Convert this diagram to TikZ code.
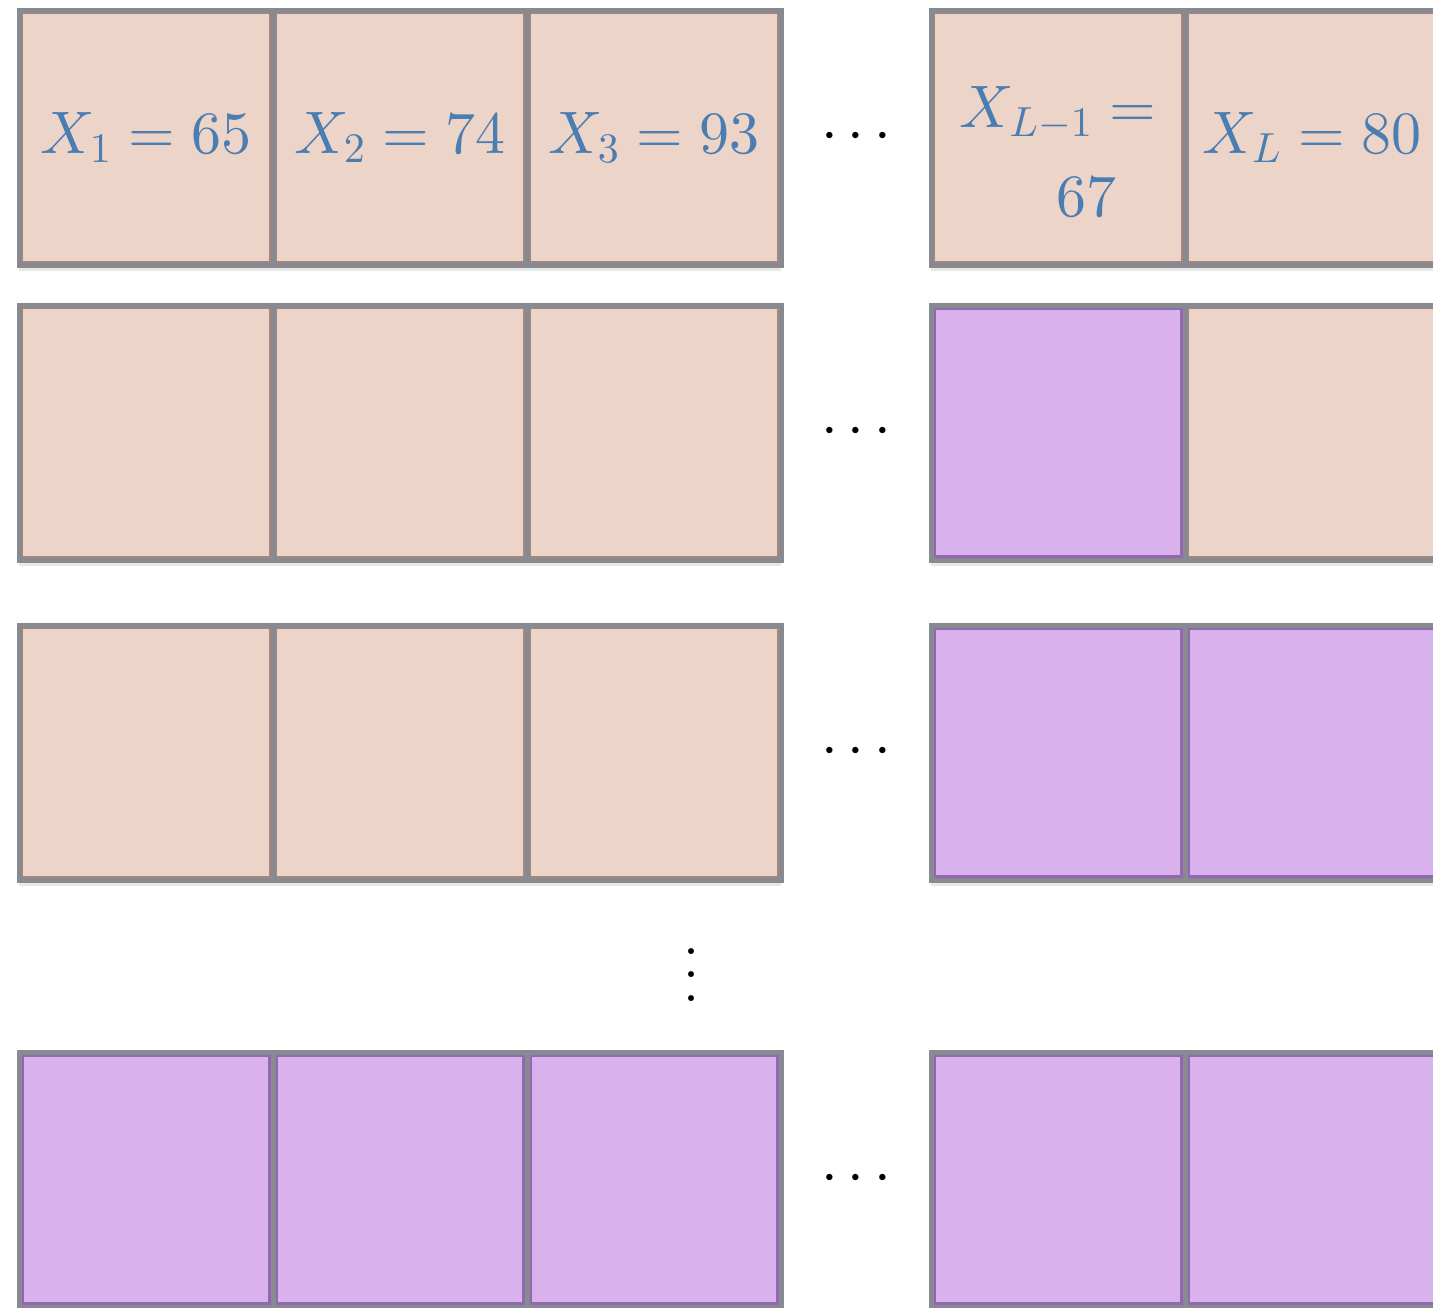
\documentclass[tikz,border=0pt]{standalone}
\usepackage{tikz}
\usetikzlibrary{positioning, calc, shadows}

% scalable math fonts for the large labels
\DeclareFontShape{OT1}{cmr}{m}{n}{<->cmr10}{}
\DeclareFontShape{OML}{cmm}{m}{it}{<->cmmi10}{\skewchar\font'177}
\DeclareFontShape{OMS}{cmsy}{m}{n}{<->cmsy10}{\skewchar\font'60}

\definecolor{cellpeach}{HTML}{EDD4C8}
\definecolor{cellviolet}{HTML}{D9B1EC}
\definecolor{cellrim}{HTML}{878A90}
\definecolor{peachrim}{HTML}{A3877D}
\definecolor{violetrim}{HTML}{9468B0}
\definecolor{labelblue}{HTML}{4A7DB1}

\newcommand{\colvdots}{\vbox{\fontsize{36}{12}\selectfont\baselineskip=11.75pt\lineskiplimit=-20pt
   \hbox{.}\hbox{.}\hbox{.}}}

\begin{document}
\begin{tikzpicture}[
    font=\fontsize{30}{43}\selectfont,
    node distance=0pt,
    cell/.style={draw=cellrim, line width=2.5pt, minimum width=127pt, minimum height=127.5pt,
                 outer sep=0pt, inner sep=0pt, text=labelblue, align=center,
                 drop shadow={shadow xshift=0pt, shadow yshift=-3pt, opacity=0.18}},
    peach/.style={cell, fill=cellpeach,
                  path picture={\draw[peachrim, line width=3.6pt]
                     (path picture bounding box.south west) rectangle (path picture bounding box.north east);}},
    violet/.style={cell, fill=cellviolet,
                  path picture={\draw[violetrim, line width=5pt]
                     (path picture bounding box.south west) rectangle (path picture bounding box.north east);}},
    gapdots/.style={inner sep=0pt, text=black}
]
\useasboundingbox (0,0) rectangle (716.5pt,-653.5pt);

% row 1
\node[peach] (r1c1) at (73pt,-68.75pt) {$X_1=65$};
\node[peach, right=of r1c1] (r1c2) {$X_2=74$};
\node[peach, right=of r1c2] (r1c3) {$X_3=93$};
\node[peach, right=75pt of r1c3] (r1c5) {\rule{0pt}{34pt}$X_{L-1}=$\\[1.5pt]\hspace*{28pt}$67$};
\node[peach, right=of r1c5] (r1c6) {$X_L=80$};

% row 2
\node[peach, below=20pt of r1c1] (r2c1) {};
\node[peach, right=of r2c1] (r2c2) {};
\node[peach, right=of r2c2] (r2c3) {};
\node[violet, right=75pt of r2c3] (r2c5) {};
\node[peach, right=of r2c5] (r2c6) {};

% row 3
\node[peach, below=32.5pt of r2c1] (r3c1) {};
\node[peach, right=of r3c1] (r3c2) {};
\node[peach, right=of r3c2] (r3c3) {};
\node[violet, right=75pt of r3c3] (r3c5) {};
\node[violet, right=of r3c5] (r3c6) {};

% last row
\node[violet, below=86pt of r3c1] (r5c1) {};
\node[violet, right=of r5c1] (r5c2) {};
\node[violet, right=of r5c2] (r5c3) {};
\node[violet, right=75pt of r5c3] (r5c5) {};
\node[violet, right=of r5c5] (r5c6) {};

\foreach \r in {1,2,3,5}
   \node[gapdots] (h\r) at ($(r\r c3.east)!0.5!(r\r c5.west)$) {$\cdots$};
\node[gapdots, xshift=18.5pt, yshift=-4.5pt] (v4) at ($(r3c3.south)!0.5!(r5c3.north)$) {\colvdots};
\end{tikzpicture}
\end{document}
